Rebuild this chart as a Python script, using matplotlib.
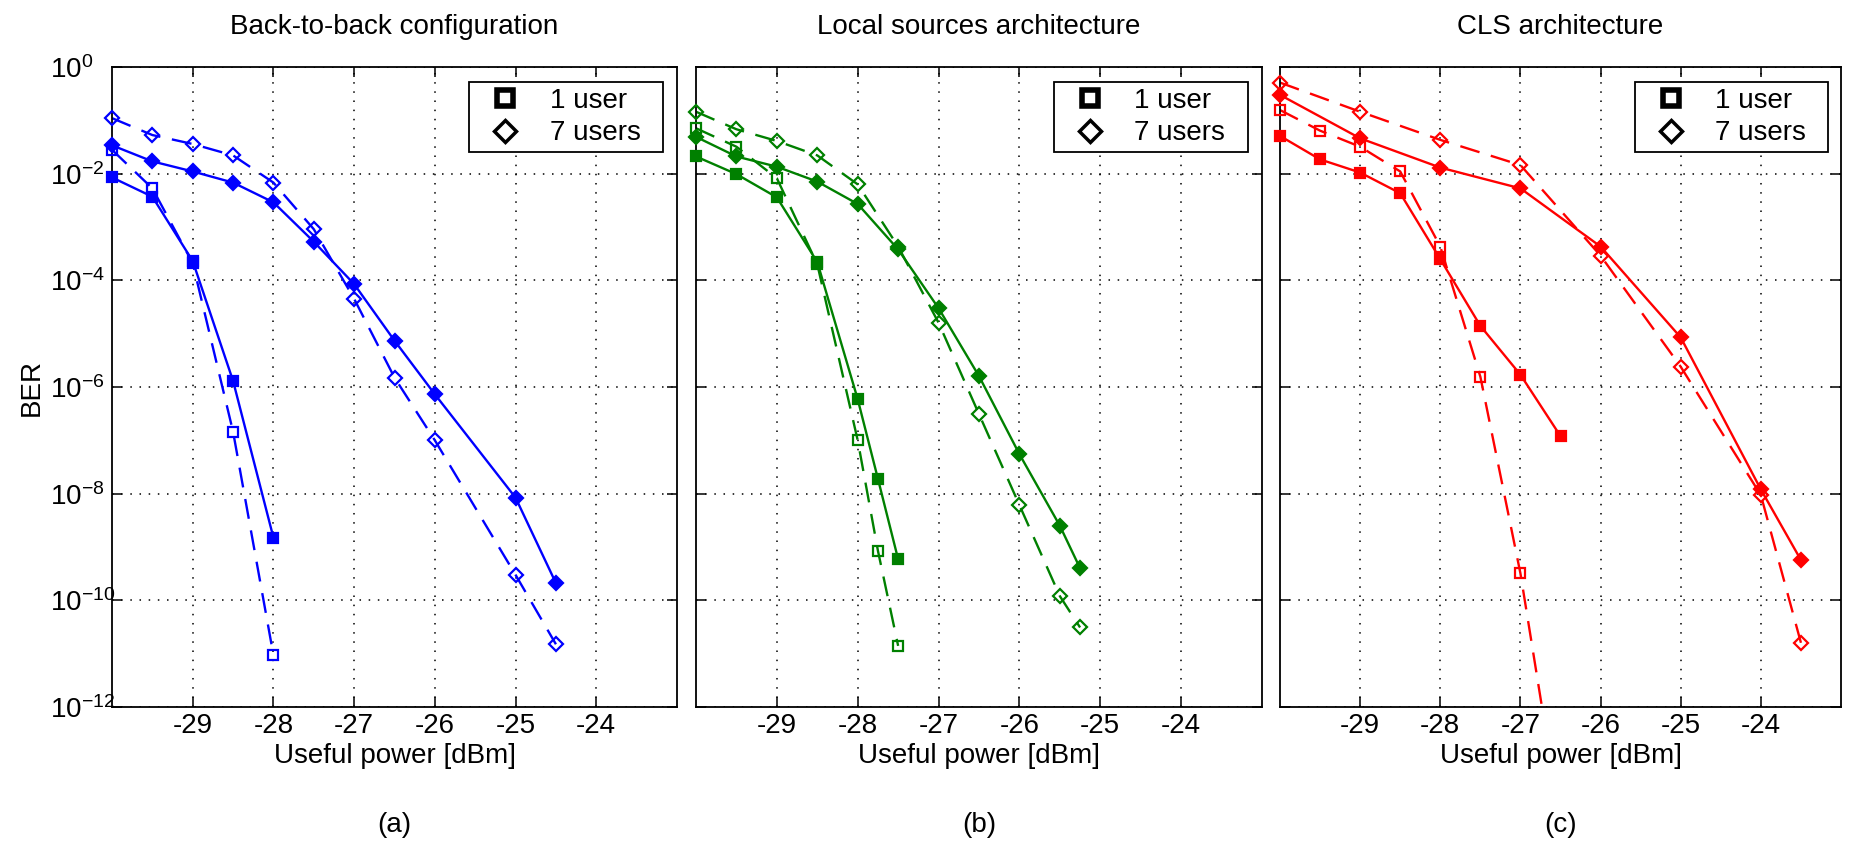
import numpy as np
import matplotlib
matplotlib.use('Agg')
import matplotlib.pyplot as plt
from matplotlib.lines import Line2D
from matplotlib.ticker import FixedLocator, FuncFormatter, NullLocator

plt.rcParams['font.family'] = ['Liberation Sans', 'DejaVu Sans']
plt.rcParams['mathtext.fontset'] = 'custom'
plt.rcParams['mathtext.rm'] = 'Liberation Sans'
plt.rcParams['mathtext.it'] = 'Liberation Sans:italic'
plt.rcParams['mathtext.bf'] = 'Liberation Sans:bold'
plt.rcParams['axes.unicode_minus'] = False

# --- данные ---
titles = ['Back-to-back configuration', 'Local sources architecture', 'CLS architecture']
letters = ['(a)', '(b)', '(c)']
colors = ['#0000ff', '#008000', '#ff0000']
legend_labels = ['1 user', '7 users']
xticks = [-29, -28, -27, -26, -25, -24]
yticks = [1e-12, 1e-10, 1e-8, 1e-6, 1e-4, 1e-2, 1e0]

# (a) back-to-back
a_sq_x = [-30, -29.5, -29, -28.5, -28]
a_sq_solid = [8.5e-3, 3.7e-3, 2.3e-4, 1.3e-6, 1.5e-9]
a_sq_dash = [2.8e-2, 5.3e-3, 2.1e-4, 1.45e-7, 9.4e-12]
a_dm_x = [-30, -29.5, -29, -28.5, -28, -27.5, -27, -26.5, -26, -25, -24.5]
a_dm_solid = [3.4e-2, 1.7e-2, 1.1e-2, 6.8e-3, 2.9e-3, 5.3e-4, 8.5e-5, 7.4e-6, 7.3e-7, 8.4e-9, 2.1e-10]
a_dm_dash = [0.11, 5.3e-2, 3.6e-2, 2.2e-2, 6.8e-3, 9.1e-4, 4.5e-5, 1.5e-6, 1.0e-7, 3e-10, 1.5e-11]

# (b) local sources
b_sq_x = [-30, -29.5, -29, -28.5, -28, -27.75, -27.5]
b_sq_solid = [2.1e-2, 9.8e-3, 3.6e-3, 2.2e-4, 5.9e-7, 1.9e-8, 5.9e-10]
b_sq_dash = [7.1e-2, 3.2e-2, 8.2e-3, 2.0e-4, 1.0e-7, 8.5e-10, 1.4e-11]
b_dm_x = [-30, -29.5, -29, -28.5, -28, -27.5, -27, -26.5, -26, -25.5, -25.25]
b_dm_solid = [4.9e-2, 2.1e-2, 1.35e-2, 7.1e-3, 2.7e-3, 3.8e-4, 3.0e-5, 1.6e-6, 5.5e-8, 2.5e-9, 4e-10]
b_dm_dash = [0.145, 6.8e-2, 4.1e-2, 2.2e-2, 6.3e-3, 4.3e-4, 1.6e-5, 3.1e-7, 6.1e-9, 1.2e-10, 3.1e-11]

# (c) CLS
c_sq_x = [-30, -29.5, -29, -28.5, -28, -27.5, -27, -26.5]
c_sq_solid = [5.1e-2, 1.85e-2, 1.05e-2, 4.3e-3, 2.5e-4, 1.4e-5, 1.7e-6, 1.2e-7]
c_sq_dash = [0.156, 6.4e-2, 3.2e-2, 1.1e-2, 4.3e-4, 1.56e-6, 3.2e-10, 7e-15]
c_dm_x = [-30, -29, -28, -27, -26, -25, -24, -23.5]
c_dm_solid = [0.30, 4.6e-2, 1.3e-2, 5.3e-3, 4.3e-4, 8.5e-6, 1.2e-8, 5.7e-10]
c_dm_dash = [0.51, 0.145, 4.3e-2, 1.45e-2, 2.9e-4, 2.4e-6, 9.4e-9, 1.6e-11]

panels = [
    (a_sq_x, a_sq_solid, a_sq_dash, a_dm_x, a_dm_solid, a_dm_dash),
    (b_sq_x, b_sq_solid, b_sq_dash, b_dm_x, b_dm_solid, b_dm_dash),
    (c_sq_x, c_sq_solid, c_sq_dash, c_dm_x, c_dm_solid, c_dm_dash),
]

W, H = 1851, 844
fig = plt.figure(figsize=(W / 100, H / 100), dpi=100)

# положения осей в пикселях: левый край, ширина
ax_left = [112, 696, 1280]
ax_width = [565, 566, 561]
ax_top, ax_bottom = 67, 707

FS = 20


def draw(ax, x, y, color, marker, filled, dashed):
    x = np.array(x)
    y = np.array(y)
    line, = ax.plot(x, y, color=color, lw=1.7, ls='-', zorder=2)
    if dashed:
        line.set_dashes((8.5, 5))
    keep = y >= 1e-12
    ax.plot(x[keep], y[keep], ls='none', marker=marker, ms=7.5,
            mfc=color if filled else 'none', mec=color, mew=1.6,
            clip_on=False, zorder=3)


for i, (sq_x, sq_s, sq_d, dm_x, dm_s, dm_d) in enumerate(panels):
    ax = fig.add_axes([ax_left[i] / W, (H - ax_bottom) / H,
                       ax_width[i] / W, (ax_bottom - ax_top) / H])
    col = colors[i]
    draw(ax, sq_x, sq_s, col, 's', True, False)
    draw(ax, sq_x, sq_d, col, 's', False, True)
    draw(ax, dm_x, dm_s, col, 'D', True, False)
    draw(ax, dm_x, dm_d, col, 'D', False, True)

    ax.set_yscale('log')
    ax.set_xlim(-30, -23)
    ax.set_ylim(1e-12, 1)
    ax.xaxis.set_major_locator(FixedLocator(xticks))
    ax.yaxis.set_major_locator(FixedLocator(yticks))
    ax.yaxis.set_minor_locator(NullLocator())
    ax.yaxis.set_major_formatter(FuncFormatter(lambda v, p: r'$10^{%d}$' % round(np.log10(v))))
    ax.tick_params(direction='in', top=True, right=True, length=7, width=1.1,
                   labelsize=FS)
    ax.tick_params(axis='x', pad=4.5)
    ax.grid(True, which='major', color='k', ls=(0, (1, 5)), lw=1.1)
    ax.set_axisbelow(True)
    for s in ax.spines.values():
        s.set_linewidth(1.3)

    ax.set_title(titles[i], fontsize=FS, pad=24)
    ax.set_xlabel('Useful power [dBm]', fontsize=FS, labelpad=3)

    if i == 0:
        ax.tick_params(axis='y', pad=45)
        for lbl in ax.get_yticklabels():
            lbl.set_horizontalalignment('left')
        ax.set_ylabel('BER', fontsize=FS)
        ax.yaxis.set_label_coords((45 - 112) / 565, 0.5)
    else:
        ax.tick_params(axis='y', labelleft=False)

    handles = [
        Line2D([], [], ls='none', marker='s', ms=11, mfc='w', mec='k', mew=4),
        Line2D([], [], ls='none', marker='D', ms=11, mfc='w', mec='k', mew=2.5),
    ]
    leg = ax.legend(handles, legend_labels, loc='upper left',
                    bbox_to_anchor=(0.632, 0, 0.344, (ax_bottom - 82) / (ax_bottom - ax_top)),
                    mode='expand', borderaxespad=0, fontsize=FS,
                    fancybox=False, framealpha=1, edgecolor='k',
                    borderpad=0.2, labelspacing=0.25, handlelength=2.2,
                    handletextpad=0.5)
    leg.get_frame().set_linewidth(1.3)

    cx = (ax_left[i] + ax_width[i] / 2) / W
    fig.text(cx, (H - 825) / H, letters[i], fontsize=FS, ha='center', va='center')

fig.savefig('out.png', dpi=100)
